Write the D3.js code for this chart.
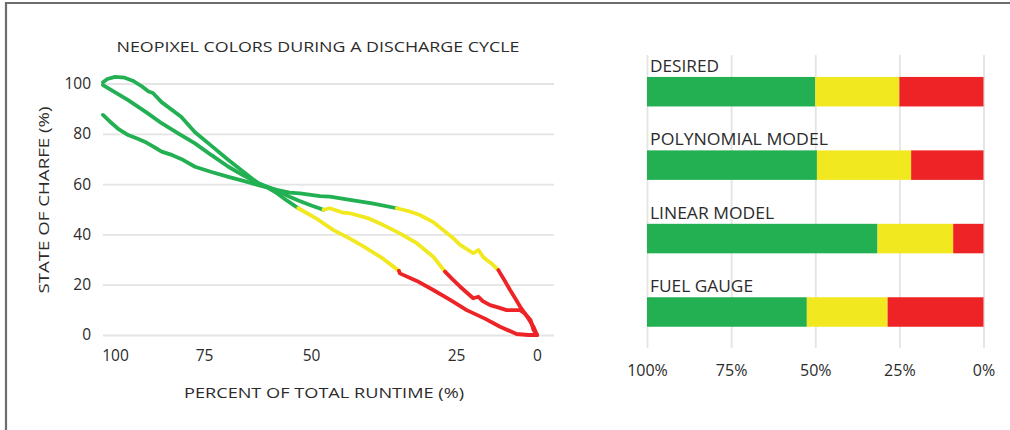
<!DOCTYPE html>
<html>
<head>
<meta charset="utf-8">
<script src="https://cdn.jsdelivr.net/npm/d3@7"></script>
<style>
  html, body { margin: 0; padding: 0; background: #fff; }
  svg { display: block; font-family: "Open Sans", Lato, sans-serif; }
  text { fill: #2b2b2b; }
</style>
</head>
<body>
<svg id="chart" width="1010" height="430"></svg>
<script>
// ---------- Left chart data: [percent of runtime remaining, state of charge] ----------
const topGreen  = [[100,87.5],[98.5,85],[96.5,82],[94.2,79.5],[92,78],[90,76.5],[88,74.5],[86.5,72.9],[84,71.5],[82,70],[78.8,66.9],[75,64.8],[71.1,62.9],[67,61],[64.2,59.6],[60,57.7],[57,56.6],[54.6,56.3],[50,55.2],[47.7,55],[43.1,53.7],[38,52.3],[32.3,50.4]];
const topYellow = [[32.3,50.4],[29.5,49.2],[27,47.7],[24,45],[21.6,41.7],[19.5,38.8],[17.7,35.8],[14.7,32.5],[13.5,33.8],[12.4,31],[11.6,29.8],[10.5,28.5],[8.9,25.8]];
const topRed    = [[8.9,25.8],[7.5,21.8],[6.2,17.9],[5,14.5],[3.9,11.3],[2,6.6],[0.8,3.3],[0,0]];

const midGreen  = [[100,100.5],[99,101.8],[97.2,102.6],[95,102.3],[93,101],[91,98.8],[89.5,96.8],[88.5,96.2],[86.5,92.6],[82,86.8],[78.8,80.6],[75,75.2],[71.1,69.6],[67,64],[64.2,60.3],[60,57.5],[57,55],[55,53.5],[52,51.5],[49.2,49.8]];
const midYellow = [[49.2,49.8],[47.7,50.4],[45,48.8],[43.1,48.4],[39,46.5],[35.4,43.7],[31.6,40.4],[27.7,36.5],[23.9,31.1],[21.2,25.2]];
const midRed    = [[21.2,25.2],[19.5,22.2],[17.7,19.2],[14.7,14.6],[13.5,15.2],[12.5,13.5],[10.8,11.9],[9,11],[7,9.9],[3.9,9.9],[2.8,8.6],[1.5,6],[0.8,2],[0,0]];

const lowGreen  = [[100,99.4],[97,96.3],[94.2,93.4],[90,88.5],[86.5,84.2],[82.5,80],[78.8,76.2],[75,71.5],[71.1,66.9],[68,63.8],[65,61],[62,58.5],[60,56.5],[57.5,53.3],[55,50.4]];
const lowYellow = [[55,50.4],[51,46.5],[46.9,41.7],[43,38.2],[40,35.2],[36,31],[31.8,25.5]];
const lowRed    = [[31.8,25.5],[31.6,24.5],[27.7,21.5],[23.9,17.9],[20,14],[16.2,9.9],[12,6.5],[8.5,3.3],[4.7,0.4],[2,0],[0,0]];

const yTicks = [0, 20, 40, 60, 80, 100];
const xTicks = [100, 75, 50, 25, 0];
const xTickLabels = ["100", "75", "50", "25", "0"];

// ---------- Right chart data ----------
const categories = ["DESIRED", "POLYNOMIAL MODEL", "LINEAR MODEL", "FUEL GAUGE"];
const greenEnd   = [50, 49.5, 31.5, 52.5];   // runtime % where green ends
const yellowEnd  = [25, 21.5, 9, 28.5];      // runtime % where yellow ends
const pctTicks   = [100, 75, 50, 25, 0];
const pctLabels  = ["100%", "75%", "50%", "25%", "0%"];

const GREEN = "#22b052", YELLOW = "#f2e81f", RED = "#ed2326";
const FONT = "'Open Sans', Lato, sans-serif";

const svg = d3.select("#chart");

// frame
svg.append("path")
  .attr("d", "M6,432 L6,3 L1012,3")
  .attr("fill", "none").attr("stroke", "#6d6d6d").attr("stroke-width", 2.2);

// ---------- Left chart ----------
const x = d3.scaleLinear().domain([100, 0]).range([103, 537]);
const y = d3.scaleLinear().domain([0, 100]).range([335, 83.5]);
// label placement scale used for the x axis tick labels (as in the original)
const xLab = d3.scaleLinear().domain([100, 75, 50, 25, 0]).range([115, 204, 311, 456, 537]);

const grid = svg.append("g").attr("transform", "translate(103,0)")
  .call(d3.axisLeft(y).tickValues(yTicks).tickSize(-451).tickFormat(""));
grid.select(".domain").remove();
grid.selectAll("line").attr("stroke", "#e4e4e4").attr("stroke-width", 1.8);

const yAx = svg.append("g").attr("transform", "translate(103,0)")
  .call(d3.axisLeft(y).tickValues(yTicks).tickSize(0).tickPadding(12));
yAx.select(".domain").remove();
yAx.selectAll("text").attr("font-size", 15.5).attr("font-family", FONT).attr("fill", "#2b2b2b");

const xAx = svg.append("g").attr("transform", "translate(0,335)")
  .call(d3.axisBottom(xLab).tickValues(xTicks).tickSize(0).tickPadding(15)
    .tickFormat((d, i) => xTickLabels[i]));
xAx.select(".domain").remove();
xAx.selectAll("text").attr("font-size", 15.5).attr("font-family", FONT).attr("fill", "#2b2b2b");

svg.append("text").attr("x", 318).attr("y", 52).attr("text-anchor", "middle")
  .attr("font-size", 15).attr("textLength", 403).attr("lengthAdjust", "spacingAndGlyphs")
  .text("NEOPIXEL COLORS DURING A DISCHARGE CYCLE");
svg.append("text").attr("x", 324).attr("y", 398).attr("text-anchor", "middle")
  .attr("font-size", 15).attr("textLength", 280).attr("lengthAdjust", "spacingAndGlyphs")
  .text("PERCENT OF TOTAL RUNTIME (%)");
svg.append("text").attr("transform", "translate(49,200) rotate(-90)").attr("text-anchor", "middle")
  .attr("font-size", 15).attr("textLength", 187).attr("lengthAdjust", "spacingAndGlyphs")
  .text("STATE OF CHARFE (%)");

const line = d3.line().x(d => x(d[0])).y(d => y(d[1]));
const segs = [
  [topGreen, GREEN], [midGreen, GREEN], [lowGreen, GREEN],
  [topYellow, YELLOW], [midYellow, YELLOW], [lowYellow, YELLOW],
  [topRed, RED], [midRed, RED], [lowRed, RED]
];
svg.append("g").selectAll("path").data(segs).join("path")
  .attr("d", d => line(d[0]))
  .attr("fill", "none").attr("stroke", d => d[1])
  .attr("stroke-width", 3.8).attr("stroke-linejoin", "round").attr("stroke-linecap", "round");

// ---------- Right chart ----------
const xr = d3.scaleLinear().domain([100, 0]).range([647, 983.5]);
const yr = d3.scalePoint().domain(categories).range([91.7, 312]);
const barH = 29.5;
const labelWidth = { "DESIRED": 69, "POLYNOMIAL MODEL": 178, "LINEAR MODEL": 124, "FUEL GAUGE": 103 };

const rGrid = svg.append("g").attr("transform", "translate(0,348)")
  .call(d3.axisBottom(xr).tickValues(pctTicks).tickSize(-293).tickFormat(""));
rGrid.select(".domain").remove();
rGrid.selectAll("line").attr("stroke", "#e4e4e4").attr("stroke-width", 1.8);

const rAx = svg.append("g").attr("transform", "translate(0,348)")
  .call(d3.axisBottom(xr).tickValues(pctTicks).tickSize(0).tickPadding(17)
    .tickFormat((d, i) => pctLabels[i]));
rAx.select(".domain").remove();
rAx.selectAll("text").attr("font-size", 16).attr("font-family", FONT).attr("fill", "#2b2b2b");

const rows = categories.map((c, i) => ({ c, g: greenEnd[i], yl: yellowEnd[i] }));
const rowG = svg.append("g").selectAll("g").data(rows).join("g");
rowG.append("rect").attr("x", xr(100)).attr("y", d => yr(d.c) - barH / 2)
  .attr("width", d => xr(d.g) - xr(100)).attr("height", barH).attr("fill", GREEN);
rowG.append("rect").attr("x", d => xr(d.g)).attr("y", d => yr(d.c) - barH / 2)
  .attr("width", d => xr(d.yl) - xr(d.g)).attr("height", barH).attr("fill", YELLOW);
rowG.append("rect").attr("x", d => xr(d.yl)).attr("y", d => yr(d.c) - barH / 2)
  .attr("width", d => xr(0) - xr(d.yl)).attr("height", barH).attr("fill", RED);
rowG.append("text").attr("x", 650).attr("y", d => yr(d.c) - 20)
  .attr("font-size", 16).attr("textLength", d => labelWidth[d.c]).attr("lengthAdjust", "spacingAndGlyphs")
  .text(d => d.c);
</script>
</body>
</html>
